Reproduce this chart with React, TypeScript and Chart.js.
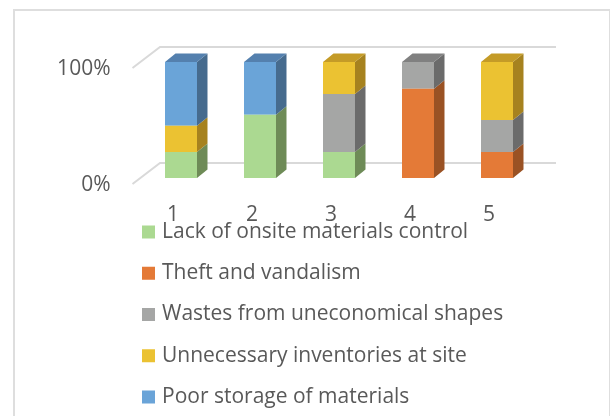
import React, { useEffect, useRef } from "react";
import { Chart, registerables } from "chart.js";

Chart.register(...registerables);

const categories = ["1", "2", "3", "4", "5"];
const lackOfControl = [22.5, 54.5, 22.5, 0, 0];
const theftVandalism = [0, 0, 0, 77, 22.5];
const wastesShapes = [0, 0, 50, 23, 27.5];
const unnecessaryInventories = [22.5, 0, 27.5, 0, 50];
const poorStorage = [55, 45.5, 0, 0, 0];
const yTicks = [0, 100];

const seriesLabels = [
  "Lack of onsite materials control",
  "Theft and vandalism",
  "Wastes from uneconomical shapes",
  "Unnecessary inventories at site",
  "Poor storage of materials",
];
const frontColors = ["#ABD991", "#E47A37", "#A5A6A5", "#EBC232", "#6AA4D8"];
const sideColors = ["#6E8B57", "#9A5224", "#6B6B6B", "#A6821F", "#466B8E"];
const topColors = ["#8DB475", "#C0642B", "#808080", "#C49B27", "#5480AE"];

const FONT = "'Open Sans', sans-serif";
const FONT_SIZE = 21;
const TEXT = "#595959";
const DX = 10.5;
const DY = -8.5;

const threeD = {
  id: "threeD",
  beforeDatasetsDraw(chart: any) {
    const { ctx, chartArea, scales } = chart;
    const ys = scales.y;
    ctx.save();
    ctx.strokeStyle = "#D9D9D9";
    ctx.lineWidth = 2;
    yTicks.forEach((v) => {
      const yp = ys.getPixelForValue(v);
      ctx.beginPath();
      ctx.moveTo(chartArea.left - 9, yp + 6);
      ctx.lineTo(chartArea.left + 18.5, yp - 15);
      ctx.lineTo(chartArea.right + 19.5, yp - 15);
      ctx.stroke();
    });
    ctx.restore();
  },
  afterDatasetsDraw(chart: any) {
    const { ctx } = chart;
    const datasets = chart.data.datasets;
    ctx.save();
    datasets.forEach((ds: any, i: number) => {
      const meta = chart.getDatasetMeta(i);
      meta.data.forEach((bar: any, j: number) => {
        const val = ds.data[j];
        if (!val) return;
        const { x, y, base, width } = bar.getProps(["x", "y", "base", "width"], true);
        const xl = x - width / 2;
        const xr = x + width / 2;
        ctx.fillStyle = sideColors[i];
        ctx.beginPath();
        ctx.moveTo(xr, y);
        ctx.lineTo(xr + DX, y + DY);
        ctx.lineTo(xr + DX, base + DY);
        ctx.lineTo(xr, base);
        ctx.closePath();
        ctx.fill();
        let isTop = true;
        for (let k = i + 1; k < datasets.length; k++) {
          if (datasets[k].data[j]) isTop = false;
        }
        if (isTop) {
          ctx.fillStyle = topColors[i];
          ctx.beginPath();
          ctx.moveTo(xl, y);
          ctx.lineTo(xl + DX, y + DY);
          ctx.lineTo(xr + DX, y + DY);
          ctx.lineTo(xr, y);
          ctx.closePath();
          ctx.fill();
        }
      });
    });
    ctx.restore();
  },
  afterDraw(chart: any) {
    const { ctx, chartArea } = chart;
    ctx.save();
    ctx.font = `${FONT_SIZE}px ${FONT}`;
    ctx.textBaseline = "middle";
    ctx.textAlign = "left";
    chart.data.datasets.forEach((ds: any, i: number) => {
      const cy = chartArea.bottom + 54 + i * 41.25;
      ctx.fillStyle = ds.backgroundColor;
      ctx.fillRect(chartArea.left + 0.5, cy - 6.5, 13, 13);
      ctx.fillStyle = TEXT;
      ctx.fillText(ds.label, chartArea.left + 20.5, cy);
    });
    ctx.restore();
  },
};

export default function App() {
  const ref = useRef<HTMLCanvasElement | null>(null);
  useEffect(() => {
    if (!ref.current) return;
    const series = [lackOfControl, theftVandalism, wastesShapes, unnecessaryInventories, poorStorage];
    const chart = new Chart(ref.current, {
      type: "bar",
      data: {
        labels: categories,
        datasets: series.map((d, i) => ({
          label: seriesLabels[i],
          data: d,
          backgroundColor: frontColors[i],
          borderWidth: 0,
          categoryPercentage: 1,
          barPercentage: 0.405,
        })),
      },
      options: {
        responsive: false,
        animation: false,
        devicePixelRatio: 1,
        layout: { padding: { left: 0, right: 73.5, top: 62, bottom: 178 } },
        plugins: { legend: { display: false }, tooltip: { enabled: false } },
        scales: {
          x: {
            stacked: true,
            grid: { display: false, drawTicks: false },
            border: { display: false },
            ticks: { font: { family: FONT, size: FONT_SIZE }, color: TEXT, labelOffset: -8, padding: 24, maxRotation: 0 },
            afterFit: (s: any) => { s.height = 60; },
          },
          y: {
            stacked: true,
            min: 0,
            max: 100,
            grid: { display: false, drawTicks: false },
            border: { display: false },
            afterBuildTicks: (s: any) => { s.ticks = yTicks.map((v) => ({ value: v })); },
            ticks: {
              font: { family: FONT, size: FONT_SIZE },
              color: TEXT,
              padding: 31,
              labelOffset: 7,
              callback: (v: any) => `${v}%`,
            },
            afterFit: (s: any) => { s.width = 141.5; },
          },
        },
      },
      plugins: [threeD],
    });
    return () => chart.destroy();
  }, []);
  return (
    <div style={{ position: "fixed", left: 0, top: 0, width: 610, height: 416, background: "#fff", overflow: "hidden" }}>
      <div style={{ position: "absolute", left: 13, top: 9, width: 594, height: 500, border: "2px solid #DEDEDE" }} />
      <canvas ref={ref} width={610} height={416} style={{ position: "absolute", left: 0, top: 0, width: 610, height: 416 }} />
    </div>
  );
}
